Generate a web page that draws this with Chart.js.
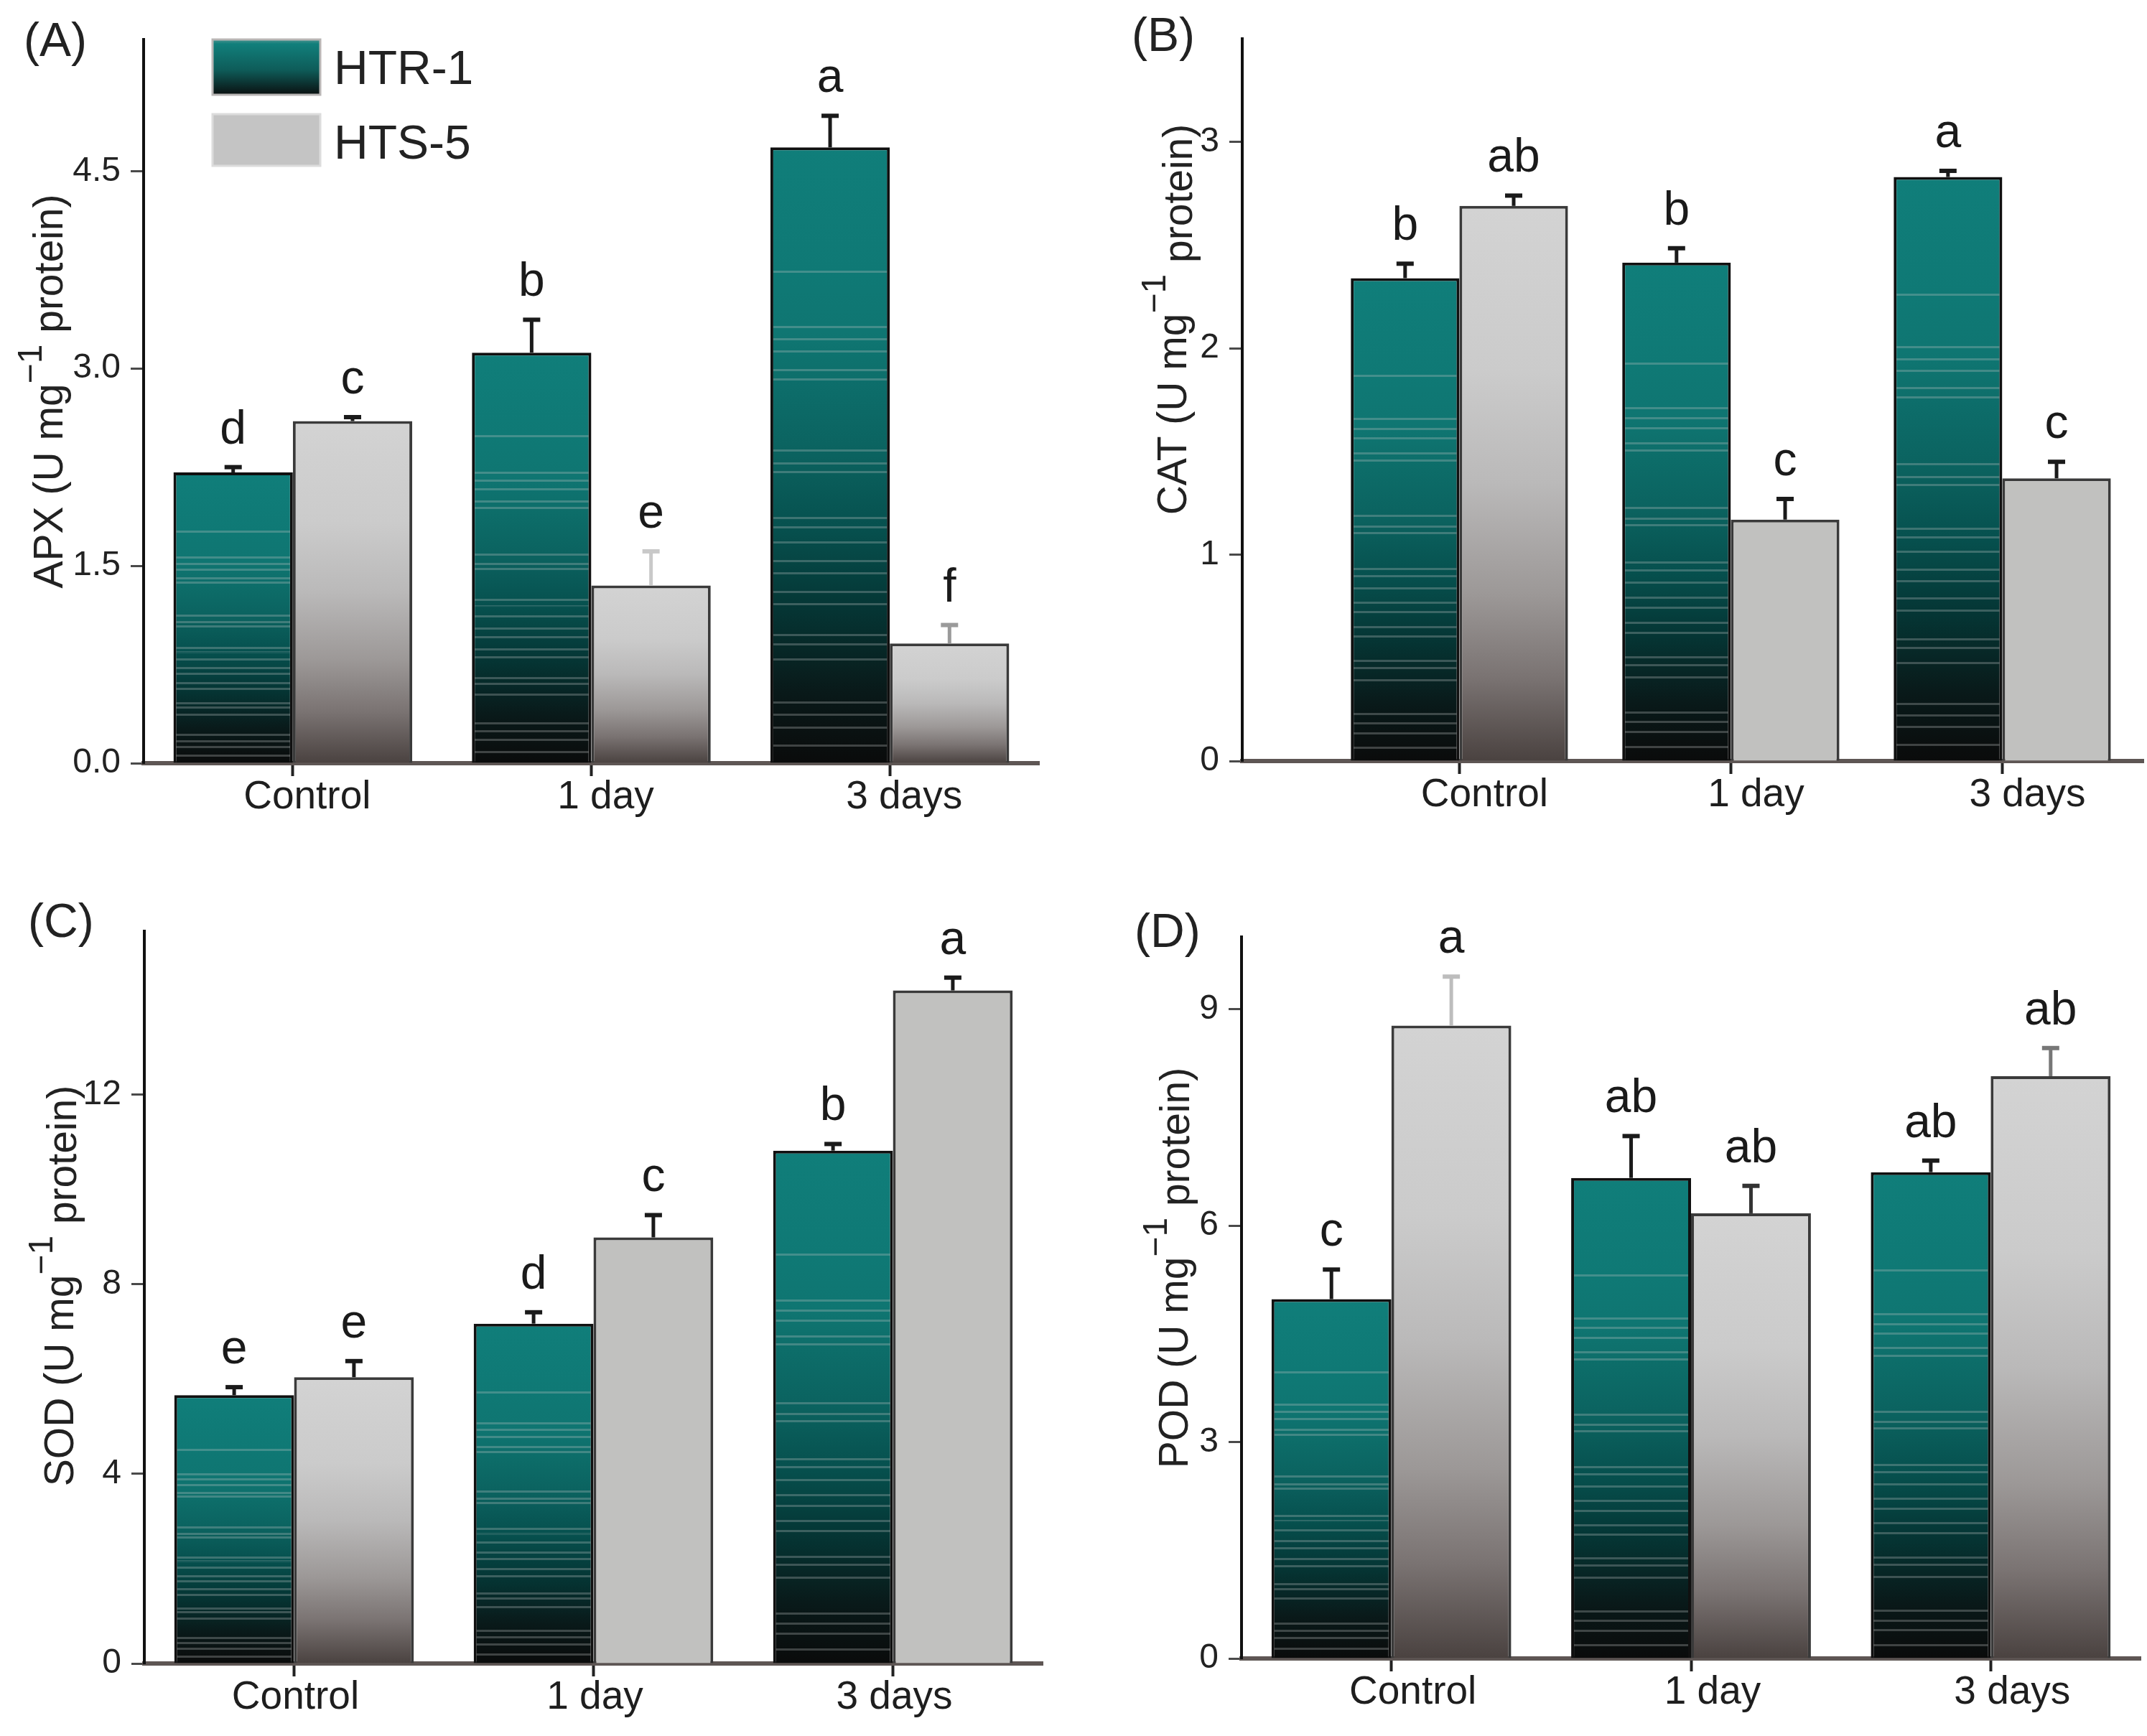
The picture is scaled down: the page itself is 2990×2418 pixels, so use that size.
<!DOCTYPE html>
<html>
<head>
<meta charset="utf-8">
<title>APX, CAT, SOD, POD</title>
<script src="https://cdn.jsdelivr.net/npm/chart.js@4.4.1/dist/chart.umd.min.js"></script>
<style>
  html, body { margin: 0; padding: 0; background: #fff; }
  #page { position: relative; width: 2990px; height: 2418px; background: #fff; overflow: hidden;
          font-family: 'Liberation Sans', Arial, sans-serif; }
  #page canvas { position: absolute; }
  .tag { position: absolute; font-size: 66px; line-height: 66px; color: #222; }
</style>
</head>
<body>
<div id="page">
  <canvas id="apx" width="1495" height="1209" style="left:0;top:0"></canvas>
  <canvas id="cat" width="1495" height="1209" style="left:1495px;top:0"></canvas>
  <canvas id="sod" width="1495" height="1209" style="left:0;top:1209px"></canvas>
  <canvas id="pod" width="1495" height="1209" style="left:1495px;top:1209px"></canvas>
  <div class="tag" style="left:33px;top:22px">(A)</div>
  <div class="tag" style="left:1576px;top:15px">(B)</div>
  <div class="tag" style="left:39px;top:1249px">(C)</div>
  <div class="tag" style="left:1580px;top:1263px">(D)</div>
</div>
<script>
const FONT = "'Liberation Sans', Arial, sans-serif";

// --- data ---
const categories = ['Control', '1 day', '3 days'];
const seriesNames = ['HTR-1', 'HTS-5'];

// (A) APX
const apxHTR = [2.21, 3.12, 4.68];
const apxHTS = [2.60, 1.35, 0.91];
const apxErrHTR = [0.04, 0.25, 0.24];
const apxErrHTS = [0.03, 0.26, 0.14];
const apxLetHTR = ['d', 'b', 'a'];
const apxLetHTS = ['c', 'e', 'f'];
const apxTicks = [0, 1.5, 3, 4.5];

// (B) CAT
const catHTR = [2.34, 2.415, 2.83];
const catHTS = [2.69, 1.17, 1.37];
const catErrHTR = [0.07, 0.07, 0.03];
const catErrHTS = [0.05, 0.10, 0.08];
const catLetHTR = ['b', 'b', 'a'];
const catLetHTS = ['ab', 'c', 'c'];
const catTicks = [0, 1, 2, 3];

// (C) SOD
const sodHTR = [5.66, 7.17, 10.82];
const sodHTS = [6.04, 8.99, 14.20];
const sodErrHTR = [0.17, 0.24, 0.14];
const sodErrHTS = [0.34, 0.47, 0.27];
const sodLetHTR = ['e', 'd', 'b'];
const sodLetHTS = ['e', 'c', 'a'];
const sodTicks = [0, 4, 8, 12];

// (D) POD
const podHTR = [4.98, 6.66, 6.74];
const podHTS = [8.77, 6.17, 8.07];
const podErrHTR = [0.41, 0.58, 0.16];
const podErrHTS = [0.68, 0.38, 0.39];
const podLetHTR = ['c', 'ab', 'ab'];
const podLetHTS = ['a', 'ab', 'ab'];
const podTicks = [0, 3, 6, 9];

// --- bar fills ---
const tealStops = [[0, '#107e7a'], [0.3, '#0f7672'], [0.5, '#0b625f'], [0.62, '#06504e'],
                   [0.75, '#053534'], [0.88, '#091a1a'], [1, '#0a0b0b']];
const greyStops = [[0, '#d3d3d3'], [0.3, '#cbcbcb'], [0.5, '#bab9b9'], [0.7, '#9c9897'],
                   [0.85, '#7a7372'], [1, '#4a4240']];
const tealStripes = [0.2, 0.29, 0.31, 0.33, 0.36, 0.375, 0.49, 0.512, 0.525, 0.6, 0.615, 0.64,
                     0.67, 0.69, 0.72, 0.74, 0.79, 0.805, 0.83, 0.9, 0.92, 0.94, 0.97];

function hexRgb(h) {
  const n = parseInt(h.slice(1), 16);
  return [(n >> 16) & 255, (n >> 8) & 255, n & 255];
}
function colorAt(stops, t) {
  for (let i = 1; i < stops.length; i++) {
    if (t <= stops[i][0]) {
      const f = (t - stops[i - 1][0]) / (stops[i][0] - stops[i - 1][0]);
      const a = hexRgb(stops[i - 1][1]), b = hexRgb(stops[i][1]);
      return a.map((v, k) => Math.round(v + (b[k] - v) * f));
    }
  }
  return hexRgb(stops[stops.length - 1][1]);
}
const rgb = a => `rgb(${a[0]},${a[1]},${a[2]})`;

function makeGradient(c, top, bottom, stops, stripes) {
  const g = c.createLinearGradient(0, top, 0, bottom);
  stops.forEach(([t, col]) => g.addColorStop(t, col));
  if (stripes) {
    const d = 3 / Math.max(bottom - top, 1);
    stripes.forEach(s => {
      const base = colorAt(stops, s);
      const light = base.map(v => Math.round(v + (200 - v) * 0.28));
      g.addColorStop(s, rgb(base));
      g.addColorStop(s, rgb(light));
      g.addColorStop(Math.min(s + d, 1), rgb(light));
      g.addColorStop(Math.min(s + d, 1), rgb(colorAt(stops, Math.min(s + d, 1))));
    });
  }
  return g;
}

function barSpan(ctx) {
  const y = ctx.chart.scales.y;
  return [y.getPixelForValue(ctx.parsed.y), y.getPixelForValue(0)];
}
function tealFill(ctx) {
  if (ctx.type !== 'data' || !ctx.chart.chartArea) return '#0f6f6b';
  const [top, base] = barSpan(ctx);
  return makeGradient(ctx.chart.ctx, top, base, tealStops, tealStripes);
}
function greyFill(flat) {
  return ctx => {
    if (ctx.type !== 'data' || !ctx.chart.chartArea) return '#c1c1bf';
    if (flat[ctx.dataIndex]) return '#c1c1bf';
    const [top, base] = barSpan(ctx);
    return makeGradient(ctx.chart.ctx, top, base, greyStops, null);
  };
}

// --- plugins ---
const errorBars = {
  id: 'errorBars',
  afterDatasetsDraw(chart) {
    const c = chart.ctx, y = chart.scales.y;
    chart.data.datasets.forEach((ds, i) => {
      chart.getDatasetMeta(i).data.forEach((el, j) => {
        const v = ds.data[j].y;
        const yTop = y.getPixelForValue(v + ds.err[j]);
        c.save();
        c.strokeStyle = ds.errColor[j];
        c.lineWidth = 5;
        c.beginPath();
        c.moveTo(el.x, el.y);
        c.lineTo(el.x, yTop);
        c.stroke();
        c.lineWidth = 6;
        c.beginPath();
        c.moveTo(el.x - 12, yTop);
        c.lineTo(el.x + 12, yTop);
        c.stroke();
        c.fillStyle = '#1a1a1a';
        c.font = `66px ${FONT}`;
        c.textAlign = 'center';
        c.textBaseline = 'alphabetic';
        c.fillText(ds.letters[j], el.x, yTop - 33);
        c.restore();
      });
    });
  }
};

const axisTitle = {
  id: 'axisTitle',
  afterDraw(chart, args, o) {
    const c = chart.ctx;
    c.save();
    c.translate(o.x, o.y);
    c.rotate(-Math.PI / 2);
    c.fillStyle = '#222';
    c.textBaseline = 'alphabetic';
    c.textAlign = 'left';
    let total = 0;
    const widths = o.parts.map(p => {
      c.font = `${Math.round(o.size * p.scale)}px ${FONT}`;
      const w = c.measureText(p.text).width;
      total += w;
      return w;
    });
    let cx = -total / 2;
    o.parts.forEach((p, k) => {
      c.font = `${Math.round(o.size * p.scale)}px ${FONT}`;
      c.fillText(p.text, cx, p.dy);
      cx += widths[k];
    });
    c.restore();
  }
};

const legendBoxes = {
  id: 'legendBoxes',
  afterDraw(chart, args, o) {
    if (!o.show) return;
    const c = chart.ctx;
    chart.data.datasets.forEach((ds, i) => {
      const b = o.items[i];
      c.save();
      if (i === 0) {
        const g = c.createLinearGradient(0, b.y, 0, b.y + b.h);
        g.addColorStop(0, '#4a938f');
        g.addColorStop(0.08, '#117f7b');
        g.addColorStop(0.55, '#0e5c59');
        g.addColorStop(1, '#0a1010');
        c.fillStyle = g;
      } else {
        c.fillStyle = '#c4c4c4';
      }
      c.fillRect(b.x, b.y, b.w, b.h);
      c.strokeStyle = i === 0 ? '#b9b6b5' : '#dcdcdc';
      c.lineWidth = 3;
      c.strokeRect(b.x, b.y, b.w, b.h);
      c.fillStyle = '#222';
      c.font = `66px ${FONT}`;
      c.textBaseline = 'alphabetic';
      c.fillText(ds.label, o.textX, b.textY);
      c.restore();
    });
  }
};

function titleParts(name, subShift) {
  return [
    { text: name + ' (U mg', scale: 1, dy: 0 },
    { text: '\u2212' + '1', scale: 0.85, dy: -29 },
    { text: ' protein)', scale: 1, dy: subShift }
  ];
}

function panel(id, p) {
  const W = 1495, H = 1209;
  new Chart(document.getElementById(id), {
    type: 'bar',
    data: {
      datasets: [
        {
          label: seriesNames[0],
          data: p.htr.map((v, i) => ({ x: i, y: v })),
          err: p.errHtr, letters: p.letHtr, errColor: ['#1a1a1a', '#1a1a1a', '#1a1a1a'],
          backgroundColor: tealFill, borderColor: '#101010', borderWidth: 4
        },
        {
          label: seriesNames[1],
          data: p.hts.map((v, i) => ({ x: i, y: v })),
          err: p.errHts, letters: p.letHts, errColor: p.errColHts,
          backgroundColor: greyFill(p.flat), borderColor: '#3a3a3a', borderWidth: 4
        }
      ]
    },
    options: {
      responsive: false,
      devicePixelRatio: 1,
      animation: false,
      events: [],
      categoryPercentage: 0.8,
      barPercentage: 1.0,
      layout: { padding: { left: 0, top: p.top, right: W - p.right, bottom: 0 } },
      plugins: {
        legend: { display: false },
        tooltip: { enabled: false },
        axisTitle: { x: p.titleX, y: p.titleY, size: 57, parts: titleParts(p.name, p.subShift) },
        legendBoxes: {
          show: !!p.legend, textX: 465,
          items: [{ x: 296, y: 55, w: 150, h: 77, textY: 117 }, { x: 296, y: 159, w: 150, h: 72, textY: 221 }]
        }
      },
      scales: {
        x: {
          type: 'linear', min: p.xMin, max: p.xMax, offset: false, bounds: 'data',
          afterBuildTicks: s => { s.ticks = categories.map((c, i) => ({ value: i })); },
          afterFit: s => { s.height = H - p.bottom; },
          border: { display: true, color: '#5e5654', width: 6 },
          grid: { display: true, offset: false, drawOnChartArea: false, drawTicks: true,
                  tickLength: 18, tickWidth: 4, tickColor: '#222' },
          ticks: { padding: 2, labelOffset: p.labOff, maxRotation: 0, autoSkip: false, color: '#1e1e1e',
                   font: { family: FONT, size: 55, lineHeight: 1 }, callback: v => categories[v] }
        },
        y: {
          min: 0, max: p.yMax, bounds: 'data',
          afterBuildTicks: s => { s.ticks = p.ticks.map(v => ({ value: v })); },
          afterFit: s => { s.width = p.left; },
          border: { display: true, color: '#111', width: 4 },
          grid: { display: true, drawOnChartArea: false, drawTicks: true,
                  tickLength: 18, tickWidth: 3, tickColor: '#4a4a4a' },
          ticks: { padding: 14, color: '#222', font: { family: FONT, size: 48 },
                   callback: v => v.toFixed(p.dec) }
        }
      }
    },
    plugins: [errorBars, axisTitle, legendBoxes]
  });
}

panel('apx', {
  name: 'APX', htr: apxHTR, hts: apxHTS, errHtr: apxErrHTR, errHts: apxErrHTS,
  letHtr: apxLetHTR, letHts: apxLetHTS, ticks: apxTicks, dec: 1,
  errColHts: ['#1a1a1a', '#c9c9c9', '#9a9a9a'], flat: [0, 0, 0],
  left: 200, right: 1447, top: 55, bottom: 1063, yMax: 5.5, xMin: -0.5, xMax: 2.5,
  labOff: 20, titleX: 87, titleY: 545, subShift: 0, legend: true
});
panel('cat', {
  name: 'CAT', htr: catHTR, hts: catHTS, errHtr: catErrHTR, errHts: catErrHTS,
  letHtr: catLetHTR, letHts: catLetHTS, ticks: catTicks, dec: 0,
  errColHts: ['#1a1a1a', '#1a1a1a', '#1a1a1a'], flat: [0, 1, 1],
  left: 235, right: 1490, top: 54, bottom: 1060, yMax: 3.5, xMin: -0.8, xMax: 2.52,
  labOff: 35, titleX: 157, titleY: 445, subShift: 8
});
panel('sod', {
  name: 'SOD', htr: sodHTR, hts: sodHTS, errHtr: sodErrHTR, errHts: sodErrHTS,
  letHtr: sodLetHTR, letHts: sodLetHTS, ticks: sodTicks, dec: 0,
  errColHts: ['#1a1a1a', '#1a1a1a', '#1a1a1a'], flat: [0, 1, 1],
  left: 201, right: 1452, top: 88, bottom: 1108, yMax: 15.45, xMin: -0.5, xMax: 2.5,
  labOff: 2, titleX: 102, titleY: 582, subShift: 4
});
panel('pod', {
  name: 'POD', htr: podHTR, hts: podHTS, errHtr: podErrHTR, errHts: podErrHTS,
  letHtr: podLetHTR, letHts: podLetHTS, ticks: podTicks, dec: 0,
  errColHts: ['#bdbdbd', '#333333', '#777777'], flat: [0, 0, 0],
  left: 234, right: 1486, top: 96, bottom: 1101, yMax: 10, xMin: -0.5, xMax: 2.5,
  labOff: 30, titleX: 159, titleY: 557, subShift: 2
});
</script>
</body>
</html>
